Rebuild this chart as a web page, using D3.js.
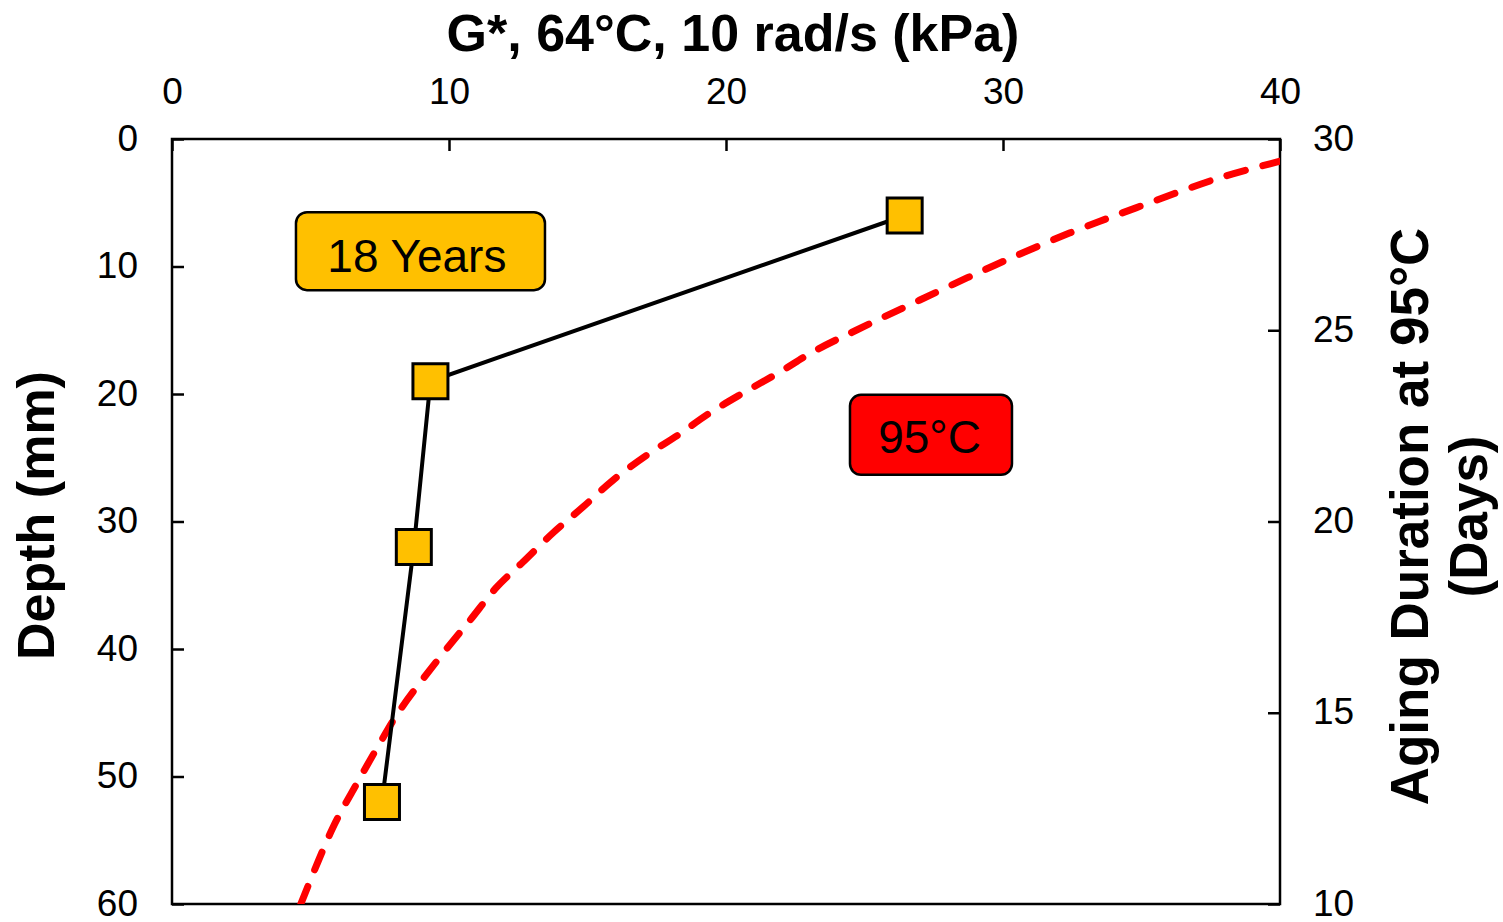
<!DOCTYPE html>
<html>
<head>
<meta charset="utf-8">
<script src="https://cdn.jsdelivr.net/npm/d3@7"></script>
<style>
  html, body { margin: 0; padding: 0; background: #fff; }
  svg { display: block; }
  text { font-family: "Liberation Sans", Arial, sans-serif; fill: #000; }
</style>
</head>
<body>
<svg id="chart" width="1503" height="922"></svg>
<script>
// ---- Data ----
const depthMM   = [6, 19, 32, 52];
const gStarField = [26.45, 9.33, 8.73, 7.58];

const agingDays  = [10.0, 12.0, 13.16, 14.2, 15.07, 16.46, 17.42, 18.29, 18.94, 19.70, 20.38, 21.08, 21.74, 22.26, 22.84, 23.39, 23.91, 24.44, 25.0, 25.79, 26.7, 27.54, 28.2, 28.98, 29.42];
const gStarLab   = [4.65, 5.81, 6.68, 7.5, 8.23, 9.68, 10.76, 11.73, 12.67, 13.75, 14.84, 15.92, 17.15, 18.27, 19.42, 20.69, 21.95, 23.15, 24.7, 27.0, 29.7, 32.4, 34.8, 37.8, 40.0];

const xTicks      = [0, 10, 20, 30, 40];
const yLeftTicks  = [0, 10, 20, 30, 40, 50, 60];
const yRightTicks = [10, 15, 20, 25, 30];

const xTitle = "G*, 64°C, 10 rad/s (kPa)";
const yLeftTitle = "Depth (mm)";
const yRightTitle = ["Aging Duration at 95°C", "(Days)"];
const labelTexts = ["18 Years", "95°C"];

// ---- Layout ----
const W = 1503, H = 922;
const m = { left: 172, right: 1280, top: 139, bottom: 904 };
const svg = d3.select("#chart");

const x  = d3.scaleLinear().domain([0, 40]).range([m.left, m.right]);
const yL = d3.scaleLinear().domain([0, 60]).range([m.top, m.bottom]);
const yR = d3.scaleLinear().domain([10, 30]).range([m.bottom, m.top]);

// clip
svg.append("defs").append("clipPath").attr("id", "plotclip")
  .append("rect").attr("x", m.left).attr("y", m.top)
  .attr("width", m.right - m.left).attr("height", m.bottom - m.top);

// ---- Axes ----
const tickFont = 37;
const gx = svg.append("g").attr("transform", `translate(0,${m.top})`)
  .call(d3.axisTop(x).tickValues(xTicks).tickFormat(d3.format("d")).tickSizeInner(-12).tickSizeOuter(0).tickPadding(35));
const gyl = svg.append("g").attr("transform", `translate(${m.left},0)`)
  .call(d3.axisLeft(yL).tickValues(yLeftTicks).tickFormat(d3.format("d")).tickSizeInner(-12).tickSizeOuter(0).tickPadding(34));
const gyr = svg.append("g").attr("transform", `translate(${m.right},0)`)
  .call(d3.axisRight(yR).tickValues(yRightTicks).tickFormat(d3.format("d")).tickSizeInner(-12).tickSizeOuter(0).tickPadding(33));

[gx, gyl, gyr].forEach(g => {
  g.select(".domain").remove();
  g.selectAll(".tick line").attr("stroke", "#000").attr("stroke-width", 2.5);
  g.selectAll(".tick text").attr("font-size", tickFont)
    .attr("font-family", "'Liberation Sans', Arial, sans-serif").attr("fill", "#000");
});
[gyl, gyr].forEach(g => g.selectAll(".tick text").attr("dy", "0.3em"));

// frame
svg.append("rect")
  .attr("x", m.left).attr("y", m.top)
  .attr("width", m.right - m.left).attr("height", m.bottom - m.top)
  .attr("fill", "none").attr("stroke", "#000").attr("stroke-width", 2.5);

// ---- Red dashed curve (right axis) ----
const labPts = agingDays.map((d, i) => [gStarLab[i], d]);
svg.append("path")
  .datum(labPts)
  .attr("clip-path", "url(#plotclip)")
  .attr("fill", "none")
  .attr("stroke", "#FF0000")
  .attr("stroke-width", 7)
  .attr("stroke-linecap", "round")
  .attr("stroke-dasharray", "19 18")
  .attr("d", d3.line().x(p => x(p[0])).y(p => yR(p[1])).curve(d3.curveCatmullRom.alpha(0.5)));

// ---- Field data (left axis) ----
const fieldPts = depthMM.map((d, i) => [gStarField[i], d]);
svg.append("path")
  .datum(fieldPts)
  .attr("fill", "none")
  .attr("stroke", "#000")
  .attr("stroke-width", 4)
  .attr("d", d3.line().x(p => x(p[0])).y(p => yL(p[1])));

const sq = 35;
svg.append("g").selectAll("rect").data(fieldPts).join("rect")
  .attr("x", p => x(p[0]) - sq / 2)
  .attr("y", p => yL(p[1]) - sq / 2)
  .attr("width", sq).attr("height", sq)
  .attr("fill", "#FFC000")
  .attr("stroke", "#000").attr("stroke-width", 3);

// ---- Annotation boxes ----
function labelBox(cx, cy, w, h, fill, text, tx, baseline) {
  svg.append("rect")
    .attr("x", cx - w / 2).attr("y", cy - h / 2)
    .attr("width", w).attr("height", h)
    .attr("rx", 11).attr("ry", 11)
    .attr("fill", fill).attr("stroke", "#000").attr("stroke-width", 2.5);
  svg.append("text")
    .attr("x", tx).attr("y", baseline)
    .attr("text-anchor", "middle")
    .attr("font-size", 46)
    .text(text);
}
// anchored in data space (G*, depth)
labelBox(x(8.97), yL(8.8), 249, 78, "#FFC000", labelTexts[0], x(8.84), yL(10.43));
labelBox(x(27.4), yL(23.2), 162, 80, "#FF0000", labelTexts[1], x(27.35), yL(24.64));

// ---- Titles ----
svg.append("text")
  .attr("x", 733).attr("y", 51)
  .attr("text-anchor", "middle")
  .attr("font-size", 52).attr("font-weight", "bold")
  .text(xTitle);

svg.append("text")
  .attr("transform", `translate(54,${(m.top + m.bottom) / 2 - 6}) rotate(-90)`)
  .attr("text-anchor", "middle")
  .attr("font-size", 52).attr("font-weight", "bold")
  .text(yLeftTitle);

svg.append("text")
  .attr("transform", `translate(1428,${(m.top + m.bottom) / 2 - 5}) rotate(-90)`)
  .attr("text-anchor", "middle")
  .attr("font-size", 53).attr("font-weight", "bold")
  .text(yRightTitle[0]);
svg.append("text")
  .attr("transform", `translate(1487,${(m.top + m.bottom) / 2 - 5}) rotate(-90)`)
  .attr("text-anchor", "middle")
  .attr("font-size", 53).attr("font-weight", "bold")
  .text(yRightTitle[1]);
</script>
</body>
</html>
